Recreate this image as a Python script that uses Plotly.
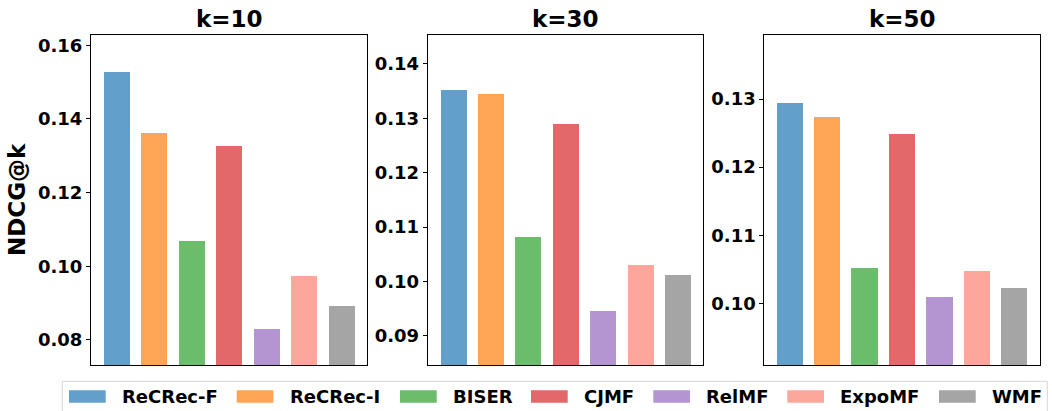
import plotly.graph_objects as go

methods = ["ReCRec-F", "ReCRec-I", "BISER", "CJMF", "RelMF", "ExpoMF", "WMF"]
base_colors = ["#1f77b4", "#ff7f0e", "#2ca02c", "#d62728", "#9467bd", "#fa8072", "#7f7f7f"]
panel_titles = ["k=10", "k=30", "k=50"]
ndcg_k10 = [0.1527, 0.1362, 0.1069, 0.1327, 0.0830, 0.0974, 0.0892]
ndcg_k30 = [0.1352, 0.1345, 0.1082, 0.1290, 0.0946, 0.1031, 0.1012]
ndcg_k50 = [0.1294, 0.1274, 0.1052, 0.1249, 0.1009, 0.1047, 0.1022]
y_ranges = [[0.0731, 0.1628], [0.0846, 0.1453], [0.0909, 0.1394]]
y_ticks = [[0.08, 0.10, 0.12, 0.14, 0.16],
           [0.09, 0.10, 0.11, 0.12, 0.13, 0.14],
           [0.10, 0.11, 0.12, 0.13]]
y_label = "NDCG@k"

W, H = 1052, 411
FONT = "DejaVu Sans"


def hex_alpha(h, a=0.7):
    h = h.lstrip("#")
    r, g, b = (int(h[i:i + 2], 16) for i in (0, 2, 4))
    mix = lambda c: round(a * c + (1 - a) * 255)
    return f"rgb({mix(r)},{mix(g)},{mix(b)})"


colors = [hex_alpha(c) for c in base_colors]

# panel pixel boxes (left, right)
panel_x = [(91, 367.3), (427.7, 703.3), (764.3, 1040.3)]
top_px, bot_px = 35, 365.3

fig = go.Figure()
series = [ndcg_k10, ndcg_k30, ndcg_k50]
xs = list(range(len(methods)))
for i, vals in enumerate(series):
    ax = "" if i == 0 else str(i + 1)
    fig.add_trace(go.Bar(
        x=xs, y=vals, width=0.7, marker=dict(color=colors, line=dict(width=0)),
        xaxis="x" + ax, yaxis="y" + ax, showlegend=False,
        hovertext=methods,
    ))
    l, r = panel_x[i]
    fig.layout["xaxis" + ax] = dict(
        domain=[l / W, r / W], range=[-0.685, 6.685], showticklabels=False,
        ticks="", showgrid=False, zeroline=False, showline=True, mirror=True,
        linecolor="black", linewidth=1, anchor="y" + ax, fixedrange=True,
    )
    fig.layout["yaxis" + ax] = dict(
        domain=[1 - bot_px / H, 1 - top_px / H], range=y_ranges[i],
        tickvals=y_ticks[i], ticktext=[f"{v:.2f}" for v in y_ticks[i]],
        ticks="outside", ticklen=4, tickwidth=1, tickcolor="black",
        tickfont=dict(family=FONT, size=18, color="black", weight="bold"),
        showgrid=False, zeroline=False, showline=True, mirror=True,
        linecolor="black", linewidth=1, anchor="x" + ax, fixedrange=True,
    )
    fig.add_annotation(
        x=(l + r) / 2 / W, y=1 - 19 / H, xref="paper", yref="paper",
        text=f"<b>{panel_titles[i]}</b>", showarrow=False,
        font=dict(family=FONT, size=23, color="black"),
        xanchor="center", yanchor="middle",
    )

fig.add_annotation(
    x=17 / W, y=1 - 200 / H, xref="paper", yref="paper",
    text=f"<b>{y_label}</b>", showarrow=False, textangle=-90,
    font=dict(family=FONT, size=23, color="black"),
    xanchor="center", yanchor="middle",
)

# legend (drawn manually to match wide swatches)
leg_left, leg_right, leg_top, leg_bot = 62.3, 1047.3, 381.3, 414
fig.add_shape(type="rect", xref="paper", yref="paper",
              x0=leg_left / W, x1=leg_right / W, y0=1 - leg_bot / H, y1=1 - leg_top / H,
              line=dict(color="#d5d5d5", width=1), fillcolor="white", layer="below")
swatch_x = [69, 236.7, 400, 531, 653.3, 787.3, 939]
sw_w, sw_y0, sw_y1 = 36.7, 390.3, 402.7
for name, col, sx in zip(methods, colors, swatch_x):
    fig.add_shape(type="rect", xref="paper", yref="paper",
                  x0=sx / W, x1=(sx + sw_w) / W, y0=1 - sw_y1 / H, y1=1 - sw_y0 / H,
                  line=dict(width=0), fillcolor=col)
    fig.add_annotation(x=(sx + 51) / W, y=1 - 396.5 / H, xref="paper", yref="paper",
                       text=f"<b>{name}</b>", showarrow=False,
                       font=dict(family=FONT, size=18, color="black"),
                       xanchor="left", yanchor="middle")

fig.update_layout(
    width=W, height=H, margin=dict(l=0, r=0, t=0, b=0),
    paper_bgcolor="white", plot_bgcolor="white", bargap=0,
    font=dict(family=FONT, color="black"),
)
fig.write_html("out.html")
